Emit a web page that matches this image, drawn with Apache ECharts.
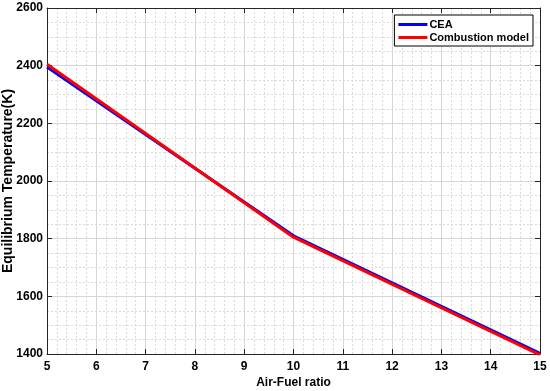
<!DOCTYPE html>
<html><head><meta charset="utf-8">
<script src="https://cdn.jsdelivr.net/npm/echarts@6/dist/echarts.min.js"></script>
<style>html,body{margin:0;padding:0;background:#fff}#c{width:550px;height:391px}</style>
</head><body><div id="c"></div>
<script>
const afr = [5, 10, 15];
const ceaTemp = [2395, 1810, 1402];
const modelTemp = [2405, 1805, 1397];
const xTicks = [5, 15, 1];
const yTicks = [1400, 2600, 200];

const toPairs = (xs, ys) => xs.map((x, i) => [x, ys[i]]);
const chart = echarts.init(document.getElementById('c'));
const lbl = {color: '#000', fontWeight: 'bold', fontSize: 12, fontFamily: 'Liberation Sans, Arial, sans-serif'};
const axisBase = (pos, isX) => ({
  type: 'value', position: pos,
  min: isX ? xTicks[0] : yTicks[0], max: isX ? xTicks[1] : yTicks[1], interval: isX ? xTicks[2] : yTicks[2],
  axisLine: {show: true, onZero: false, lineStyle: {color: '#262626', width: 1}},
  axisTick: {show: true, inside: true, length: 5, lineStyle: {color: '#262626'}},
  splitLine: {show: false}, minorSplitLine: {show: false}
});
chart.setOption({
  animation: false,
  grid: {left: 47, right: 10, top: 8, bottom: 37, containLabel: false, outerBoundsMode: 'none'},
  legend: {
    orient: 'vertical', right: 17, top: 15, padding: [4, 4, 3, 4], itemGap: 2,
    borderColor: '#000', borderWidth: 1, backgroundColor: '#fff',
    itemWidth: 29, itemHeight: 3, icon: 'rect',
    textStyle: Object.assign({}, lbl, {fontSize: 11, padding: [0, 0, 0, -3]}),
    data: ['CEA', 'Combustion model']
  },
  xAxis: [
    Object.assign(axisBase('bottom', true), {
      name: 'Air-Fuel ratio', nameLocation: 'middle', nameGap: 23, nameMoveOverlap: false,
      nameTextStyle: Object.assign({}, lbl, {fontSize: 12}),
      axisLabel: Object.assign({}, lbl, {margin: 7}),
      splitLine: {show: true, lineStyle: {color: '#d6d6d6', width: 1}},
      minorTick: {show: true, splitNumber: 5, length: 0},
      minorSplitLine: {show: true, lineStyle: {color: '#dadada', type: [2, 2], width: 1}}
    }),
    Object.assign(axisBase('top', true), {axisLabel: {show: false}})
  ],
  yAxis: [
    Object.assign(axisBase('left', false), {
      name: 'Equilibrium Temperature(K)', nameLocation: 'middle', nameGap: 32, nameMoveOverlap: false,
      nameTextStyle: Object.assign({}, lbl, {fontSize: 14}),
      axisLabel: Object.assign({}, lbl, {margin: 4, formatter: v => String(v)}),
      splitLine: {show: true, lineStyle: {color: '#d6d6d6', width: 1}},
      minorTick: {show: true, splitNumber: 4, length: 0},
      minorSplitLine: {show: true, lineStyle: {color: '#dadada', type: [2, 2], width: 1}}
    }),
    Object.assign(axisBase('right', false), {axisLabel: {show: false}})
  ],
  series: [
    {name: 'CEA', type: 'line', data: toPairs(afr, ceaTemp), showSymbol: false, symbol: 'none',
     lineStyle: {color: '#0000ff', width: 3}, itemStyle: {color: '#0000ff'}, z: 3},
    {name: 'Combustion model', type: 'line', data: toPairs(afr, modelTemp), showSymbol: false, symbol: 'none',
     lineStyle: {color: '#ff0000', width: 3}, itemStyle: {color: '#ff0000'}, z: 4}
  ]
});
</script></body></html>
